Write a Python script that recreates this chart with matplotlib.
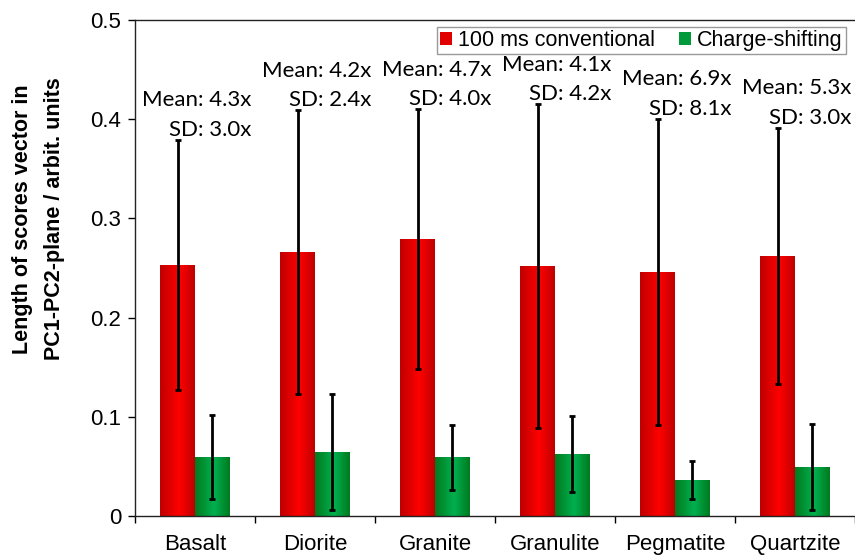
import numpy as np
import matplotlib
matplotlib.use('Agg')
import matplotlib.pyplot as plt
from matplotlib.colors import LinearSegmentedColormap

# ==========================================
# Data
# ==========================================
rocks = ['Basalt', 'Diorite', 'Granite', 'Granulite', 'Pegmatite', 'Quartzite']

conv_mean = np.array([0.253, 0.266, 0.279, 0.252, 0.246, 0.262])
conv_sd = np.array([0.126, 0.143, 0.131, 0.163, 0.154, 0.129])

shift_mean = np.array([0.0595, 0.0645, 0.059, 0.0625, 0.0363, 0.0494])
shift_sd = np.array([0.042, 0.0585, 0.033, 0.038, 0.019, 0.0436])

ratio_mean = ['4.3x', '4.2x', '4.7x', '4.1x', '6.9x', '5.3x']
ratio_sd = ['3.0x', '2.4x', '4.0x', '4.2x', '8.1x', '3.0x']

plt.rcParams['font.family'] = ['Liberation Sans', 'DejaVu Sans']

fig = plt.figure(figsize=(8.55, 5.57), dpi=100)
ax = fig.add_axes([135 / 855, 1 - 516 / 557, 720 / 855, 496 / 557])

x = np.arange(len(rocks))
width = 0.29

red_cmap = LinearSegmentedColormap.from_list(
    'redgrad', [(0, '#BE0000'), (0.55, '#FF0000'), (1, '#BE0000')])
green_cmap = LinearSegmentedColormap.from_list(
    'greengrad', [(0, '#007A1E'), (0.55, '#00B050'), (1, '#007A1E')])

bars_conv = ax.bar(x - width / 2, conv_mean, width, color='#E00000',
                   label='100 ms conventional', zorder=2)
bars_shift = ax.bar(x + width / 2, shift_mean, width, color='#009A3A',
                    label='Charge-shifting', zorder=2)

# horizontal gradient fill clipped to each bar
grad = np.linspace(0, 1, 256).reshape(1, -1)
for bars, cmap in [(bars_conv, red_cmap), (bars_shift, green_cmap)]:
    for b in bars:
        x0, y0 = b.get_x(), b.get_y()
        im = ax.imshow(grad, cmap=cmap, aspect='auto', zorder=2.5,
                       extent=[x0, x0 + b.get_width(), y0, y0 + b.get_height()])
        im.set_clip_path(b)

ax.errorbar(x - width / 2, conv_mean, yerr=conv_sd, fmt='none', ecolor='black',
            elinewidth=2, capsize=2.5, capthick=2, zorder=3)
ax.errorbar(x + width / 2, shift_mean, yerr=shift_sd, fmt='none', ecolor='black',
            elinewidth=2, capsize=2.5, capthick=2, zorder=3)

# ratio annotations above the conventional error bars
for i in range(len(rocks)):
    ax.annotate(f'Mean: {ratio_mean[i]}\nSD: {ratio_sd[i]}',
                xy=(x[i] + 0.47, conv_mean[i] + conv_sd[i]),
                xytext=(0, 3), textcoords='offset points',
                ha='right', va='baseline', multialignment='right',
                fontsize=16, family=['Lato', 'DejaVu Sans'], linespacing=1.6)

ax.set_xlim(-0.5, 5.5)
ax.set_ylim(0, 0.5)
ax.set_yticks([0, 0.1, 0.2, 0.3, 0.4, 0.5])
ax.set_yticklabels(['0', '0.1', '0.2', '0.3', '0.4', '0.5'])

ax.set_xticks(np.arange(-0.5, 6, 1))
ax.set_xticklabels([])
ax.set_xticks(x, minor=True)
ax.set_xticklabels(rocks, minor=True)
ax.tick_params(axis='x', which='major', direction='out', length=5, width=1)
ax.tick_params(axis='x', which='minor', length=0, labelsize=16, pad=13)
ax.tick_params(axis='y', direction='out', length=5, width=1, labelsize=16, pad=5)

ax.spines['right'].set_visible(False)
for s in ['left', 'bottom', 'top']:
    ax.spines[s].set_linewidth(1)
    ax.spines[s].set_color('#222222')

leg = ax.legend(loc='upper right', bbox_to_anchor=(0.9875, 0.986), ncol=2,
                fontsize=15.5, frameon=True, fancybox=False, edgecolor='#808080',
                handlelength=0.55, handleheight=0.55, handletextpad=0.3,
                columnspacing=1.1, borderpad=0.15, borderaxespad=0)
leg.get_frame().set_linewidth(1)

fig.text(0.026, 0.607, 'Length of scores vector in', rotation=90,
         ha='center', va='center', fontsize=15.5, fontweight='bold')
fig.text(0.064, 0.607, 'PC1-PC2-plane / arbit. units', rotation=90,
         ha='center', va='center', fontsize=15.5, fontweight='bold')

fig.savefig('out.png', dpi=100)
